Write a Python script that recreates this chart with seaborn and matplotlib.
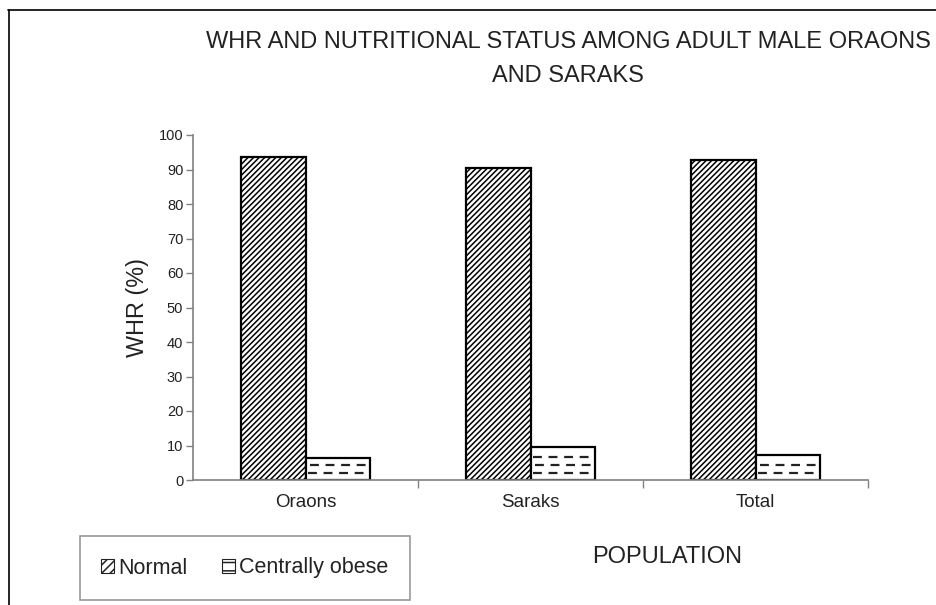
import seaborn as sns
import pandas as pd
import matplotlib.pyplot as plt
from matplotlib.lines import Line2D
from matplotlib.patches import Patch

populations = ["Oraons", "Saraks", "Total"]
status = ["Normal", "Centrally obese"]
normal_pct = [93.6, 90.5, 92.7]
obese_pct = [6.4, 9.5, 7.3]

df = pd.DataFrame({
    "population": populations * 2,
    "status": [status[0]] * 3 + [status[1]] * 3,
    "pct": normal_pct + obese_pct,
})

sns.set_style("white")
plt.rcParams["font.family"] = ["Liberation Sans", "DejaVu Sans"]
plt.rcParams["hatch.linewidth"] = 1.1
plt.rcParams["hatch.color"] = "#222222"
txt = "#222222"
axis_col = "#808080"

fig = plt.figure(figsize=(9.36, 6.05), dpi=100)
ax = fig.add_axes([193 / 936, 1 - 480 / 605, 675 / 936, 345 / 605])

sns.barplot(data=df, x="population", y="pct", hue="status", ax=ax,
            palette=["white", "white"], width=0.57, edgecolor="black",
            linewidth=1.6, legend=False)

normal_bars, obese_bars = ax.containers
for bar in normal_bars:
    bar.set_hatch("//////")

# dashed fill lines in the centrally obese bars
step = 2.4
for bar in obese_bars:
    x0, w, h = bar.get_x(), bar.get_width(), bar.get_height()
    y = step * 0.8
    k = 0
    while y < h - 0.8:
        off = 0.012 if k % 2 else 0.0
        ax.hlines(y, x0 + 0.01 + off, x0 + w - 0.01, colors="#222222",
                  linewidth=1.6, linestyles=(0, (4, 3)), zorder=3)
        y += step
        k += 1

ax.set_ylim(0, 100)
ax.set_xlim(-0.5, 2.5)
ax.set_yticks(range(0, 101, 10))
ax.tick_params(axis="y", length=5, width=1, color=axis_col, labelsize=10.5,
               labelcolor=txt, left=True, pad=2)
ax.tick_params(axis="x", which="major", length=0, labelsize=13.5, labelcolor=txt, pad=10)
ax.set_xticks([0.5, 1.5, 2.5], minor=True)
ax.tick_params(axis="x", which="minor", length=6, width=1, color=axis_col, bottom=True)
for s in ["top", "right"]:
    ax.spines[s].set_visible(False)
for s in ["left", "bottom"]:
    ax.spines[s].set_color(axis_col)
    ax.spines[s].set_linewidth(1.2)

ax.set_xlabel("")
ax.set_ylabel("WHR (%)", fontsize=16.8, color=txt, labelpad=7)

fig.text(568 / 936, 1 - 59 / 605,
         "WHR AND NUTRITIONAL STATUS AMONG ADULT MALE ORAONS\nAND SARAKS",
         ha="center", va="center", fontsize=17, color=txt, linespacing=1.65)
fig.text(667 / 936, 1 - 557 / 605, "POPULATION", ha="center", va="center",
         fontsize=17, color=txt)

# legend
handles = [Patch(facecolor="white", edgecolor="#222222", hatch="////", linewidth=0.8),
           Patch(facecolor="white", edgecolor="#222222", hatch="--", linewidth=0.8)]
leg = fig.legend(handles, status, loc="center", ncol=2,
                 bbox_to_anchor=(245 / 936, 1 - 568 / 605), fontsize=15.5,
                 frameon=True, fancybox=False, handlelength=0.6, handleheight=0.6,
                 handletextpad=0.2, columnspacing=1.6, borderpad=1.0,
                 borderaxespad=0, labelcolor=txt)
leg.get_frame().set_edgecolor(axis_col)
leg.get_frame().set_linewidth(1.2)

# outer frame
fig.add_artist(Line2D([8.5 / 936, 8.5 / 936], [0, 1 - 10 / 605],
                      transform=fig.transFigure, color="black", lw=1.2))
fig.add_artist(Line2D([8 / 936, 1], [1 - 10 / 605, 1 - 10 / 605],
                      transform=fig.transFigure, color="black", lw=1.2))

fig.savefig("out.png", dpi=100)
